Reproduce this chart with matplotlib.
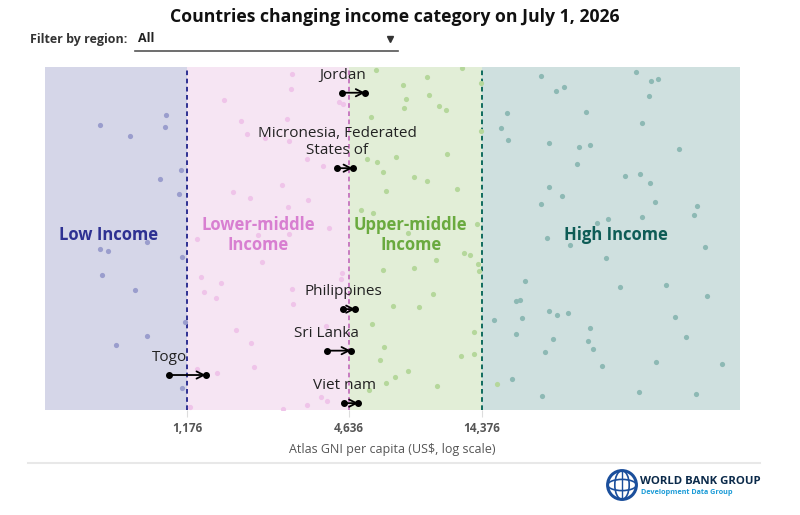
import matplotlib.pyplot as plt
from matplotlib.lines import Line2D
from matplotlib.patches import Circle, Ellipse
from matplotlib.ticker import NullLocator

plt.rcParams['font.family'] = ['Open Sans', 'DejaVu Sans']

# income thresholds (Atlas GNI per capita, US$)
thresholds = [1176, 4636, 14376]
threshold_labels = ['1,176', '4,636', '14,376']
x_range = [352, 128500]

# background countries, by income group: GNI and vertical jitter (0-100)
low_gni = [563, 984, 973, 723, 1115, 935, 1096, 835, 563, 603, 1124, 573, 755, 1156, 835, 644, 1124]
low_pos = [83.2, 85.9, 82.6, 79.9, 70.0, 67.3, 62.9, 49.1, 46.9, 46.4, 44.7, 39.3, 34.9, 25.6, 21.7, 19.0, 6.3]

lm_gni = [2867, 2850, 1606, 4282, 4430, 1865, 2748, 1957, 2286, 2788, 3256, 3739, 2634, 1734,
          2012, 3276, 2765, 3934, 2148, 2803, 1284, 2217, 1324, 1569, 1362, 1504, 2858, 2899,
          1782, 2024, 3817, 1277, 1513, 2082, 3658, 3868, 3248, 2663, 1206, 4371, 4345]
lm_pos = [98.0, 93.6, 90.3, 89.7, 89.1, 84.3, 84.8, 80.5, 79.3, 78.3, 73.3, 71.1, 65.5, 63.5,
          61.8, 61.2, 59.2, 53.0, 50.9, 51.4, 49.8, 43.1, 38.7, 37.1, 34.3, 32.7, 35.4, 31.0,
          23.3, 19.4, 24.6, 11.9, 10.7, 12.4, 3.7, 2.5, 1.5, 0.3, 1.0, 40.0, 38.3]

um_gni = [5865, 12100, 9040, 7374, 7544, 9170, 9960, 10570, 7419, 5619, 14220, 5418, 5899, 6914,
          10660, 6223, 8094, 8995, 6366, 11660, 5136, 5702, 13750, 7693, 12370, 12990, 9707,
          13900, 14050, 6223, 8054, 9513, 6773, 8446, 5653, 13470, 6276, 6050, 12000, 13440,
          7693, 6855, 6366, 5511, 9790, 14300, 16300]
um_pos = [99.1, 99.6, 97.0, 94.7, 90.8, 91.9, 88.6, 87.5, 88.1, 85.3, 81.4, 73.1, 72.2, 73.8,
          74.6, 69.5, 67.8, 66.7, 63.9, 64.5, 58.4, 57.3, 54.1, 51.7, 45.9, 45.3, 43.6,
          42.5, 40.6, 40.9, 41.5, 33.7, 30.4, 29.9, 25.0, 22.8, 18.5, 14.6, 15.7, 16.2,
          11.3, 9.7, 8.0, 5.8, 7.0, 95.2, 7.5]

hi_gni = [23730, 53010, 60190, 64040, 27020, 28760, 59330, 17780, 34670, 56050, 16940, 17940,
          25330, 32840, 36060, 76740, 32200, 48410, 55110, 59990, 25330, 28430, 23790, 62420,
          88960, 87160, 38260, 42010, 55910, 24970, 30420, 95450, 41300, 20670, 46500, 68360,
          19140, 19850, 96830, 15970, 20200, 25460, 27250, 29840, 74190, 19190, 35970, 26340,
          35440, 36980, 81450, 24550, 39720, 62800, 110000, 18550, 54510, 23990, 88650]
hi_pos = [97.5, 98.5, 95.8, 96.4, 93.0, 94.2, 91.5, 86.5, 87.0, 83.8, 82.1, 78.7,
          77.8, 76.6, 77.2, 76.1, 71.6, 68.3, 68.9, 66.2, 65.1, 62.3, 60.1, 60.6,
          59.6, 56.8, 54.6, 55.8, 56.3, 50.2, 48.0, 47.5, 44.2, 37.6, 35.9, 36.5,
          31.7, 32.2, 33.2, 26.2, 26.7, 28.9, 27.7, 28.3, 27.2, 22.2, 23.9, 20.6,
          20.1, 17.9, 21.2, 16.8, 12.9, 14.0, 13.5, 9.0, 5.2, 4.2, 4.7]

# countries changing category: previous and new GNI
changers = ['Jordan', 'Micronesia, Federated\nStates of', 'Philippines', 'Sri Lanka', 'Viet nam', 'Togo']
gni_old = [4393, 4211, 4430, 3849, 4457, 1012]
gni_new = [5326, 4800, 4907, 4719, 5033, 1378]
changer_pos = [92.5, 70.5, 29.4, 17.3, 2.0, 10.2]

group_names = ['Low Income', 'Lower-middle\nIncome', 'Upper-middle\nIncome', 'High Income']
group_label_x = [602, 2150, 7850, 44800]
bg_colors = ['#d5d6e8', '#f6e5f3', '#e2eed7', '#cfe0df']
dot_colors = ['#9a9dcd', '#efc4e9', '#b5d79b', '#8db9b4']
text_colors = ['#2e3192', '#d87fd1', '#6aaa3f', '#0e5c56']
line_colors = ['#2e3192', '#c77bc0', '#0f6b5e']

fig = plt.figure(figsize=(8, 5.15), dpi=100)
ax = fig.add_axes([45 / 800, 1 - 410 / 515, 695 / 800, 343 / 515])
ax.set_xscale('log')
ax.set_xlim(x_range)
ax.set_ylim(0, 100)

edges = [x_range[0]] + thresholds + [x_range[1]]
for i in range(4):
    ax.axvspan(edges[i], edges[i + 1], color=bg_colors[i], lw=0, zorder=0)
for t, c in zip(thresholds, line_colors):
    ax.axvline(t, color=c, lw=1.4, ls=(0, (2.4, 1.8)), zorder=1)

groups = [(low_gni, low_pos), (lm_gni, lm_pos), (um_gni, um_pos), (hi_gni, hi_pos)]
for (g, p), c in zip(groups, dot_colors):
    ax.scatter(g, p, s=14, color=c, lw=0, zorder=2)

for name, x, c in zip(group_names, group_label_x, text_colors):
    ax.text(x, 51, name, ha='center', va='center', color=c, fontsize=12,
            fontweight='bold', linespacing=1.15, zorder=3)

for name, x0, x1, y in zip(changers, gni_old, gni_new, changer_pos):
    ax.annotate('', xy=(x1, y), xytext=(x0, y),
                arrowprops=dict(arrowstyle='->', color='black', lw=1.3,
                                shrinkA=0, shrinkB=0, mutation_scale=13), zorder=4)
    ax.scatter([x0, x1], [y, y], s=16, color='black', zorder=5, clip_on=False)
    ax.annotate(name, xy=(x0, y), xytext=(0, 7), textcoords='offset points',
                ha='center', va='bottom', fontsize=11, color='#222', linespacing=1.25, zorder=5)

ax.set_xticks(thresholds)
ax.set_xticklabels(threshold_labels, fontweight='bold', color='#555', fontsize=8.5)
ax.xaxis.set_minor_locator(NullLocator())
ax.tick_params(axis='x', length=5, color='#dddddd', pad=4)
ax.set_yticks([])
for s in ax.spines.values():
    s.set_visible(False)

fig.text(392.5 / 800, 1 - 449 / 515, 'Atlas GNI per capita (US$, log scale)',
         ha='center', va='center', fontsize=9, color='#555')

# header
fig.text(395 / 800, 1 - 17 / 515, 'Countries changing income category on July 1, 2026',
         ha='center', va='center', fontsize=12.7, fontweight='bold', color='#111')
fig.text(30 / 800, 1 - 39 / 515, 'Filter by region:', ha='left', va='center',
         fontsize=9, fontweight='bold', color='#333')
fig.text(138 / 800, 1 - 39 / 515, 'All', ha='left', va='center',
         fontsize=9, fontweight='bold', color='#222')
fig.add_artist(Line2D([135 / 800, 398 / 800], [1 - 50.5 / 515] * 2, color='#555', lw=1.2))
fig.add_artist(Line2D([390 / 800], [1 - 39 / 515], marker='v', ms=5, color='#333', lw=0))

# footer
fig.add_artist(Line2D([28 / 800, 760 / 800], [1 - 463 / 515] * 2, color='#e8e8e8', lw=1.5))
lax = fig.add_axes([606 / 800, 1 - 501 / 515, 32 / 800, 32 / 515])
lax.set_xlim(-1, 1)
lax.set_ylim(-1, 1)
lax.axis('off')
lax.add_patch(Circle((0, 0), 0.9, facecolor='white', edgecolor='#1b4f9c', lw=2.2))
lax.add_patch(Ellipse((0, 0), 0.9, 1.8, facecolor='none', edgecolor='#1b4f9c', lw=1.2))
lax.add_patch(Ellipse((0, 0), 1.8, 0.7, facecolor='none', edgecolor='#1b4f9c', lw=1.2))
lax.plot([0, 0], [-0.9, 0.9], color='#1b4f9c', lw=1.0)
fig.text(640 / 800, 1 - 481 / 515, 'WORLD BANK GROUP', ha='left', va='center',
         fontsize=8.2, fontweight='bold', color='#0b2a4a')
fig.text(641 / 800, 1 - 492 / 515, 'Development Data Group', ha='left', va='center',
         fontsize=5.2, fontweight='bold', color='#1a9bd7')

fig.savefig('out.png', dpi=100)
